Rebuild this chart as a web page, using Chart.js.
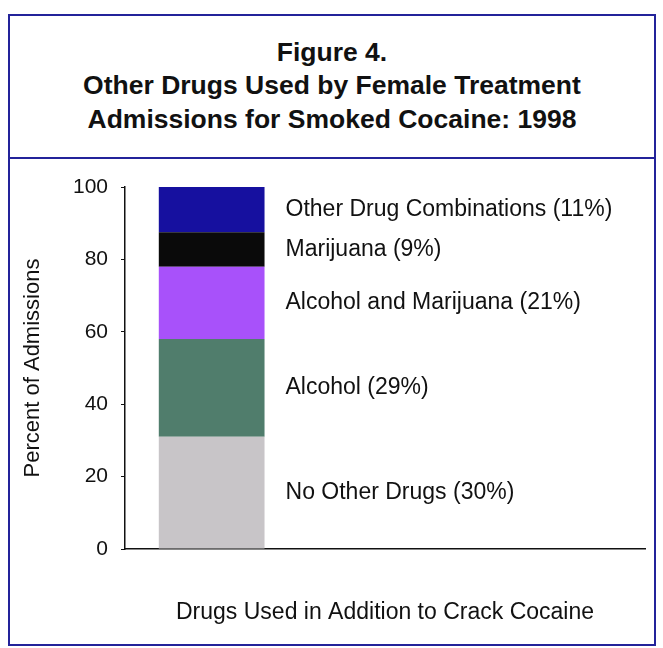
<!DOCTYPE html>
<html>
<head>
<meta charset="utf-8">
<script src="https://cdn.jsdelivr.net/npm/chart.js@4"></script>
<style>
  body { margin: 0; background: #fff; width: 663px; height: 648px; position: relative; overflow: hidden; }
  #frame { position: absolute; left: 8px; top: 14px; width: 644px; height: 628px; border: 2px solid #23239a; }
  #sep { position: absolute; left: 8px; top: 157px; width: 648px; height: 2px; background: #23239a; }
  #title { position: absolute; left: 10px; top: 35.5px; width: 644px; text-align: center;
           font-family: "Liberation Sans", Arial, sans-serif; font-weight: bold; font-size: 25px;
           line-height: 33.5px; color: #111; transform: scaleX(1.06); transform-origin: 50% 0; }
  #chart { position: absolute; left: 9px; top: 160px; }
</style>
</head>
<body>
<div id="frame"></div>
<div id="sep"></div>
<div id="title">Figure 4.<br>Other Drugs Used by Female Treatment<br>Admissions for Smoked Cocaine: 1998</div>
<canvas id="chart" width="646" height="485"></canvas>
<script>
// bottom to top of the stacked bar
const categories = ["Crack Cocaine", "", ""];
const segmentNames = [
    "No Other Drugs (30%)",
    "Alcohol (29%)",
    "Alcohol and Marijuana (21%)",
    "Marijuana (9%)",
    "Other Drug Combinations (11%)"
];
const segmentValues = [31, 27, 20, 9.5, 12.5];
const segmentColors = ["#c8c5c8", "#507d6c", "#a851fa", "#0a0a0a", "#16109f"];
const yTicks = [0, 20, 40, 60, 80, 100];

const fontFamily = "'Liberation Sans', Arial, sans-serif";

const datasets = segmentNames.map(function (name, i) {
    return {
        label: name,
        data: [segmentValues[i]],
        backgroundColor: segmentColors[i],
        borderWidth: 0,
        barPercentage: 0.61,
        categoryPercentage: 1
    };
});

// write each segment's name to the right of it
const segmentLabels = {
    id: "segmentLabels",
    afterDatasetsDraw(chart) {
        const ctx = chart.ctx;
        ctx.save();
        ctx.font = "23px " + fontFamily;
        ctx.fillStyle = "#111";
        ctx.textBaseline = "middle";
        ctx.textAlign = "left";
        chart.data.datasets.forEach(function (ds, i) {
            const bar = chart.getDatasetMeta(i).data[0];
            const x = bar.x + bar.width / 2 + 21;
            const y = (bar.y + bar.base) / 2;
            ctx.fillText(ds.label, x, y);
        });
        ctx.restore();
    }
};

const chart = new Chart(document.getElementById("chart"), {
    type: "bar",
    data: { labels: categories, datasets: datasets },
    plugins: [segmentLabels],
    options: {
        responsive: false,
        animation: false,
        layout: { padding: { left: 0, top: 27, right: 10, bottom: 0 } },
        plugins: { legend: { display: false }, tooltip: { enabled: false } },
        scales: {
            x: {
                stacked: true,
                afterFit(scale) { scale.height = 96; },
                ticks: { display: false },
                grid: { display: false },
                border: { display: true, color: "#111", width: 1.5 },
                title: {
                    display: true,
                    text: "Drugs Used in Addition to Crack Cocaine",
                    color: "#111",
                    font: { family: fontFamily, size: 23 },
                    padding: { top: 0, bottom: 19 }
                }
            },
            y: {
                stacked: true,
                min: 0,
                max: 100,
                afterFit(scale) { scale.width = 116; },
                afterBuildTicks(scale) { scale.ticks = yTicks.map(v => ({ value: v })); },
                ticks: {
                    color: "#111",
                    padding: 13,
                    font: { family: fontFamily, size: 21 }
                },
                grid: { drawOnChartArea: false, drawTicks: true, tickLength: 4, color: "#111" },
                border: { display: true, color: "#111", width: 1.5 },
                title: {
                    display: true,
                    text: "Percent of Admissions",
                    color: "#111",
                    font: { family: fontFamily, size: 22 },
                    padding: { top: 11, bottom: 0 }
                }
            }
        }
    }
});
</script>
</body>
</html>
